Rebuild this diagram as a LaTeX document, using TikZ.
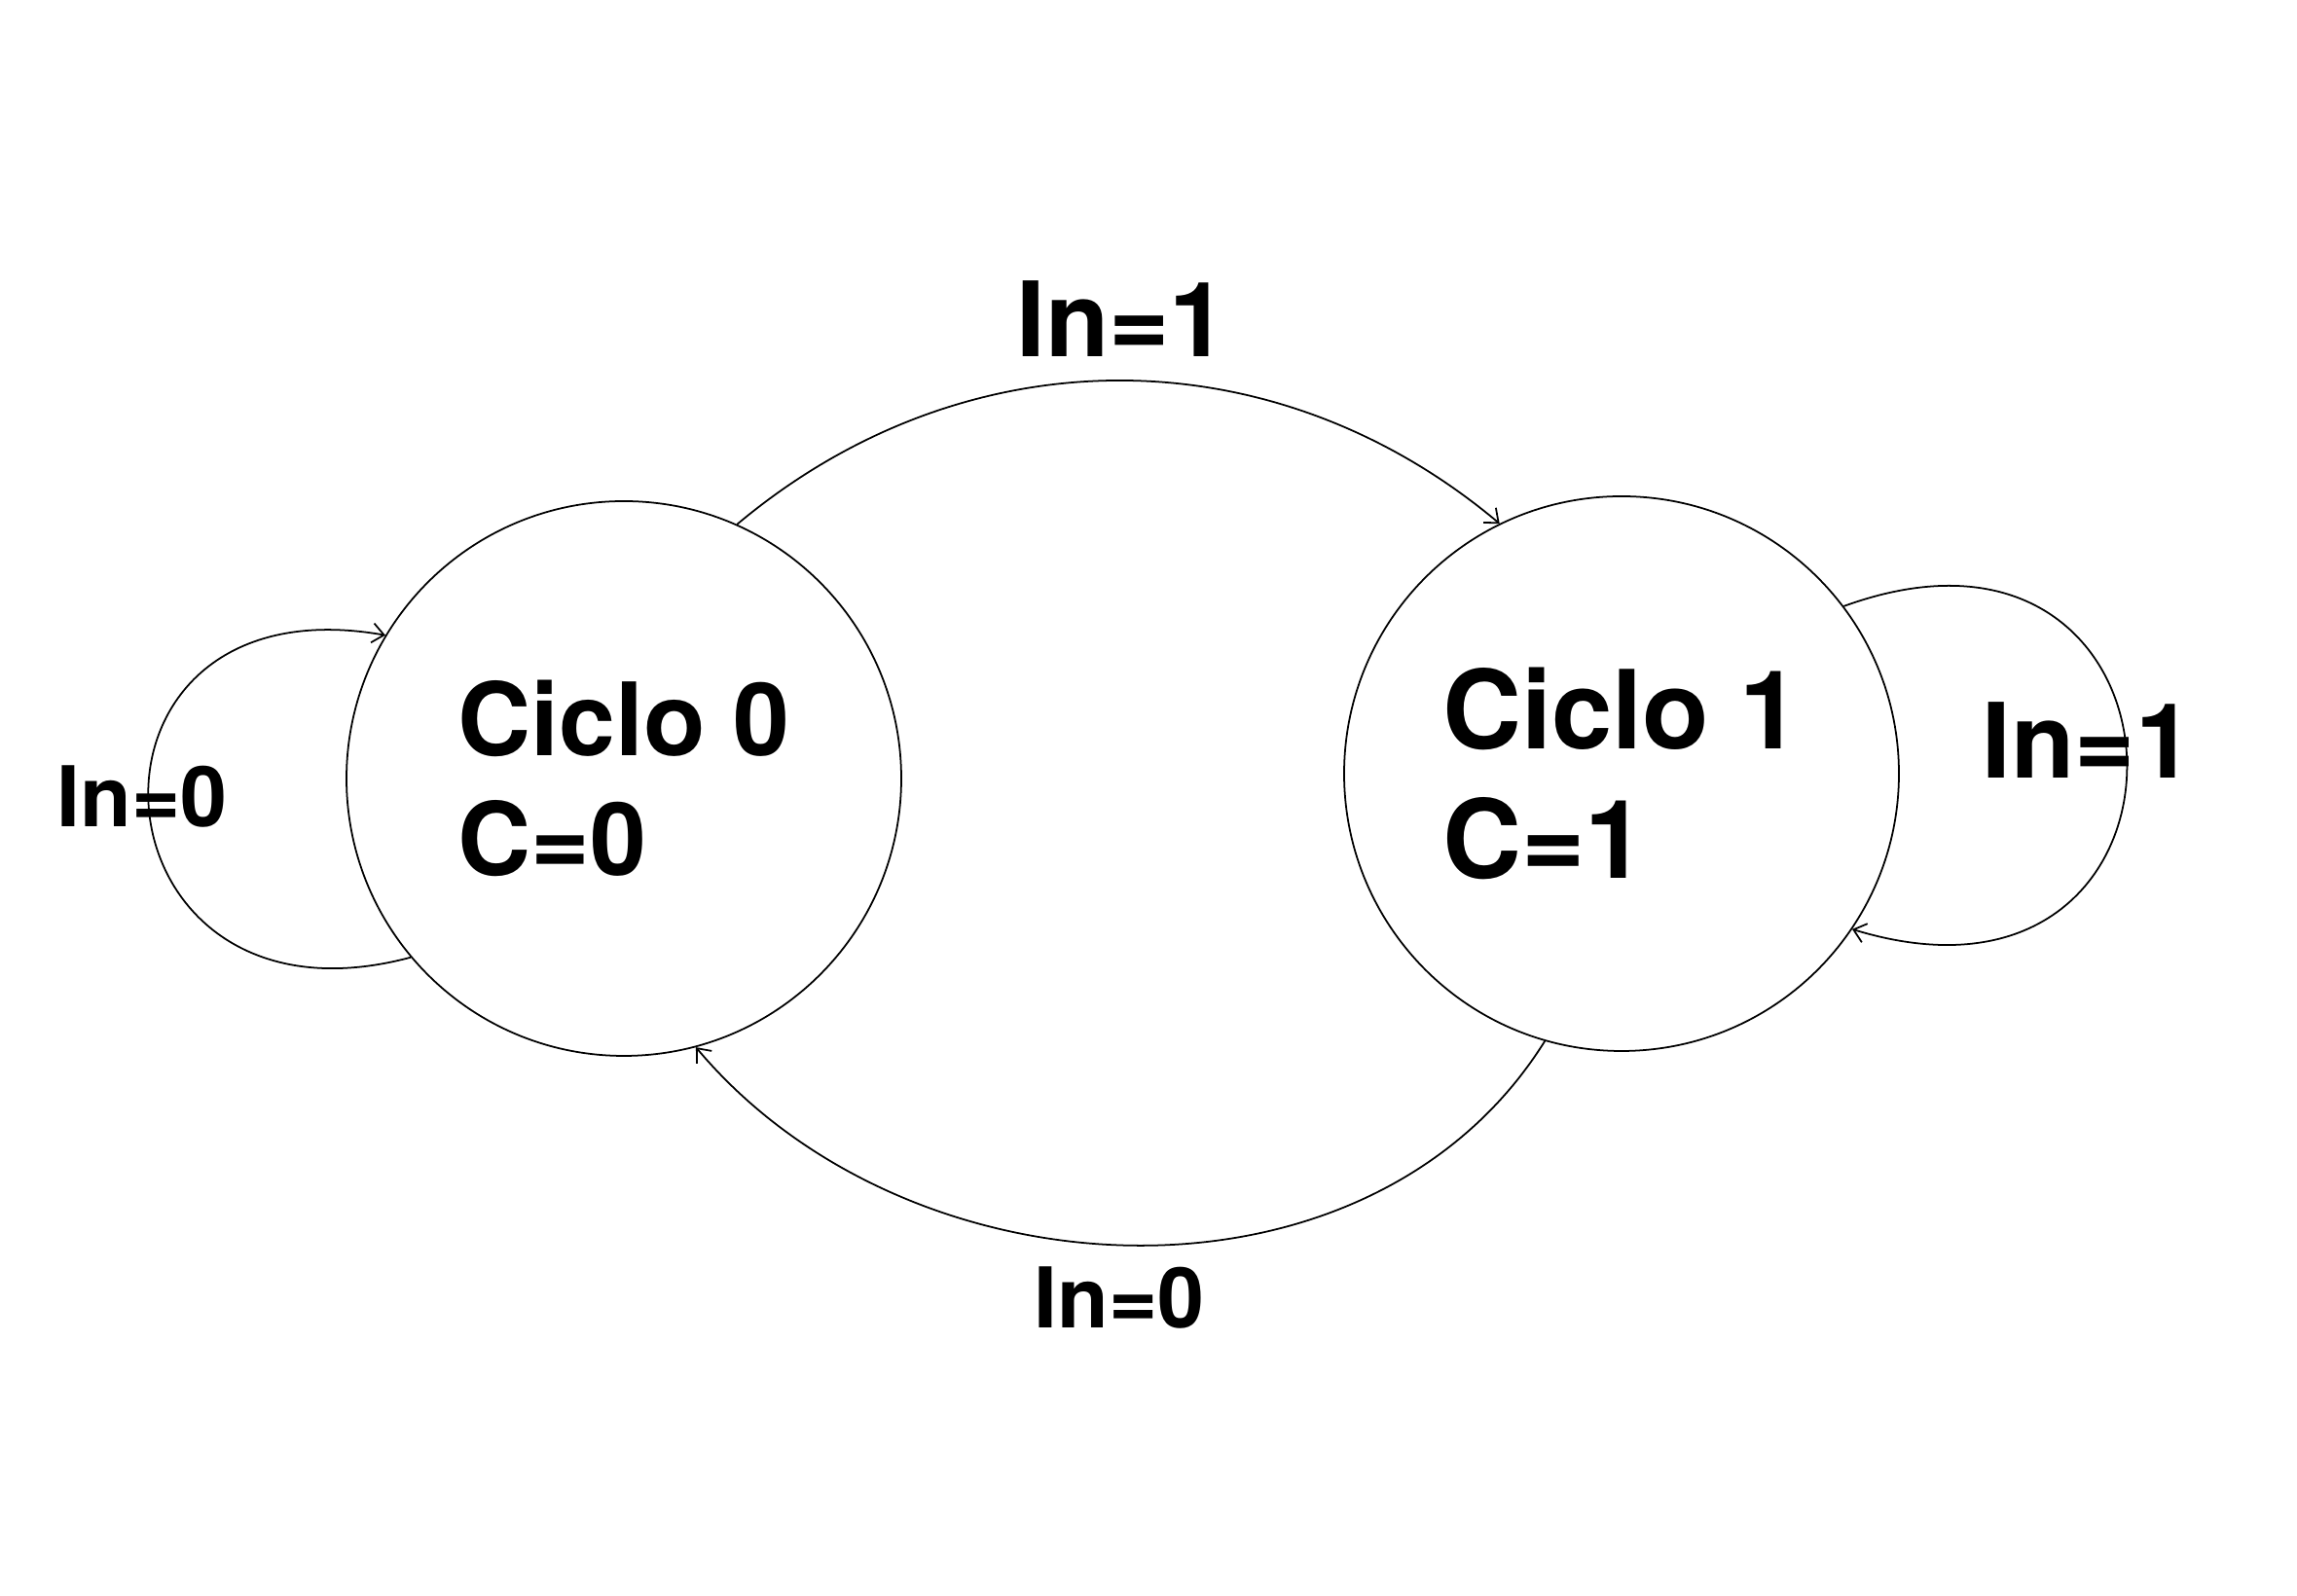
\documentclass[tikz,border=0pt]{standalone}
\usepackage{fontspec}
\setmainfont{TeX Gyre Heros}
\usetikzlibrary{arrows.meta}

\tikzset{
  state/.style={circle, draw, line width=0.5pt, minimum size=5.7cm, inner sep=0pt, align=left},
  trans/.style={line width=0.5pt, -{Straight Barb[length=1.2mm,width=2mm]}},
  biglabel/.style={font=\bfseries\fontsize{30.4}{36}\selectfont, anchor=base},
  smalllabel/.style={font=\bfseries\fontsize{24.5}{29}\selectfont, anchor=base}
}

\begin{document}
\begin{tikzpicture}
    \useasboundingbox (0,0) rectangle (23.6,16.4);

    % States
    \node[state, font=\bfseries\fontsize{29.6}{35}\selectfont] (c0) at (6.41,8.40) {Ciclo 0\\C=0};
    \node[state, font=\bfseries\fontsize{31.9}{38}\selectfont] (c1) at (16.66,8.45) {Ciclo 1\\C=1};

    % Transitions between states
    \draw[trans] (c0.66) to[out=40, in=140] (c1.116);
    \draw[trans] (c1.254) to[out=238, in=310] (c0.285);

    % Self loops
    \draw[trans] (c0.220) to[out=195, in=170, looseness=2.7] (c0.149);
    \draw[trans] (c1.37) to[out=20, in=343, looseness=3.1] (c1.326);

    % Labels
    \node[biglabel] (in1top) at (11.53,12.73) {In=1};
    \node[biglabel] (in1right) at (21.45,8.40) {In=1};
    \node[smalllabel] (in0left) at (1.46,7.90) {In=0};
    \node[smalllabel] (in0bottom) at (11.50,2.75) {In=0};
\end{tikzpicture}
\end{document}
